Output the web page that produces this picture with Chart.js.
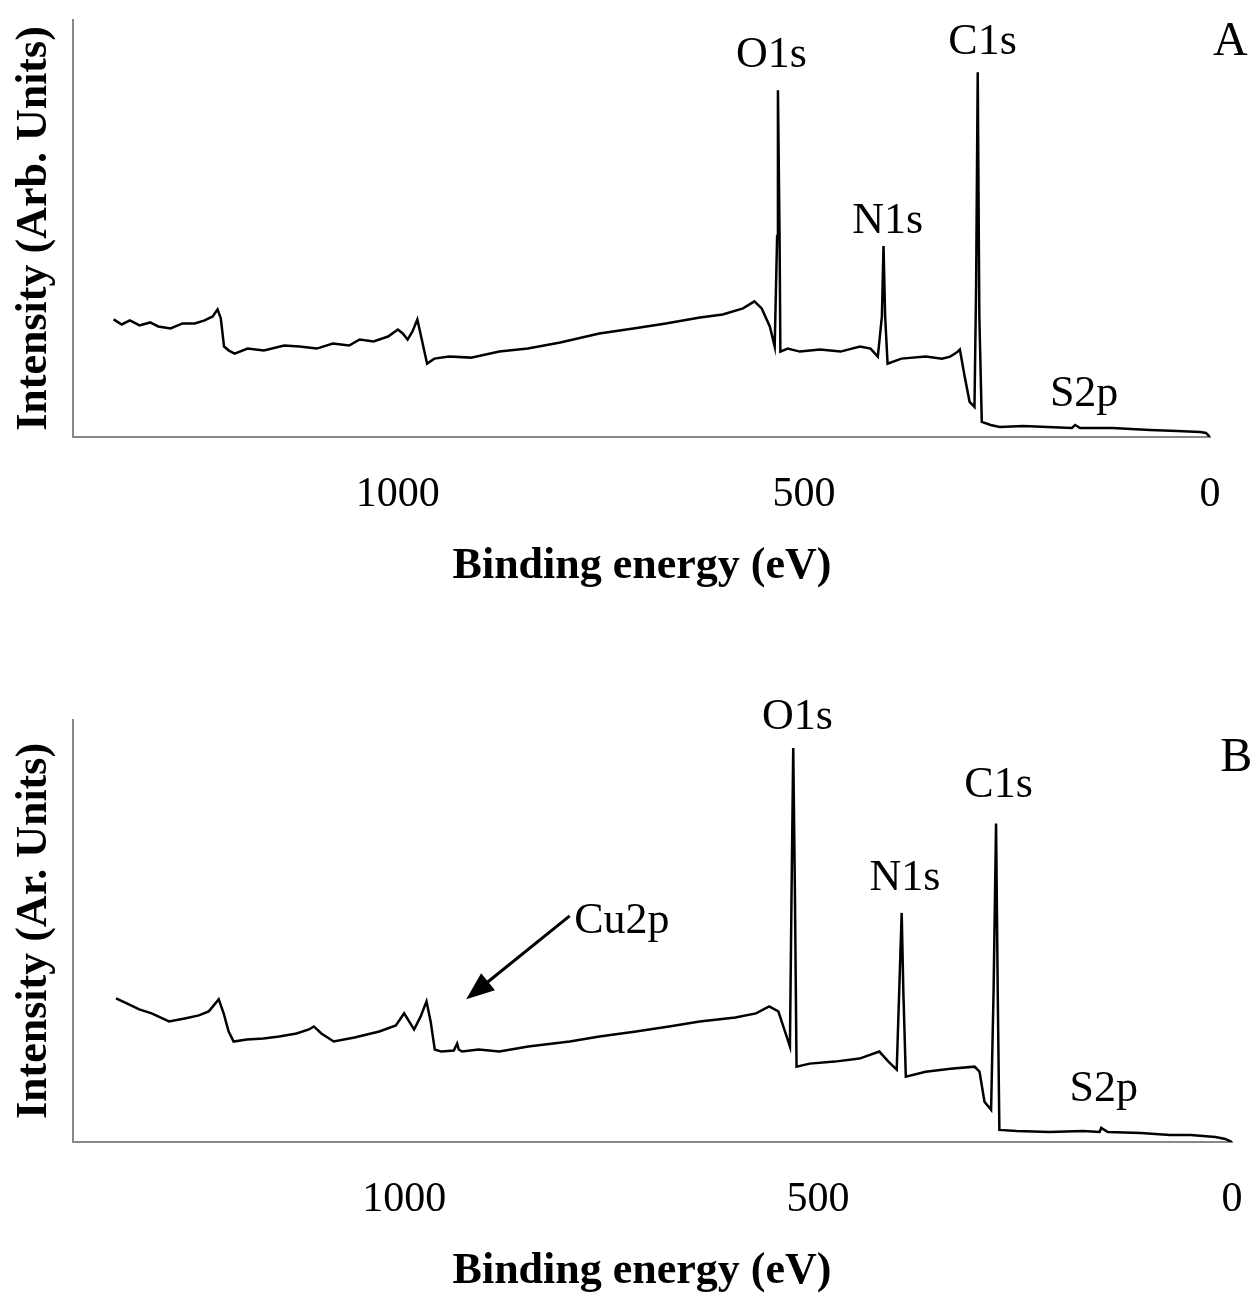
<!DOCTYPE html>
<html>
<head>
<meta charset="utf-8">
<script src="https://cdn.jsdelivr.net/npm/chart.js@4/dist/chart.umd.min.js"></script>
<style>
  body { margin: 0; background: #fff; }
  canvas { display: block; }
</style>
</head>
<body>
<div style="width:1257px;height:640px"><canvas id="chartA"></canvas></div>
<div style="width:1257px;height:660px"><canvas id="chartB"></canvas></div>
<script>
// Panel A spectrum (binding energy eV, intensity arb.)
const energyA = [1350, 1340, 1330, 1318, 1305, 1295, 1280, 1265, 1250, 1238, 1228, 1222, 1218, 1214, 1208, 1201, 1185, 1165, 1140, 1121, 1100, 1080, 1060, 1047, 1030, 1012, 1000, 994, 988, 982, 976, 970, 964, 955, 937, 910, 875, 840, 800, 752, 710, 670, 628, 600, 575, 561, 552, 542, 536, 533, 532, 530, 529, 520, 505, 480, 455, 431, 418, 409, 404, 402, 400, 397, 380, 350, 330, 320, 312, 308, 302, 296, 290, 288, 286, 284, 281, 270, 259, 230, 200, 170, 166, 160, 120, 74, 40, 12, 5, 0];
const intensityA = [117, 112, 116, 111, 114, 110, 108, 113, 113, 116, 120, 127, 118, 90, 86, 83, 88, 86, 91, 90, 88, 93, 91, 97, 95, 100, 107, 103, 97, 105, 117, 95, 73, 78, 80, 79, 85, 88, 94, 103, 108, 113, 119, 122, 128, 135, 128, 110, 90, 200, 345, 200, 85, 88, 85, 87, 85, 90, 88, 80, 120, 190, 120, 73, 78, 80, 78, 80, 84, 87, 60, 35, 30, 150, 363, 120, 15, 12, 10, 11, 10, 9, 12, 9, 9, 7, 6, 5, 4, 0];

// Panel B spectrum
const energyB = [1348, 1335, 1320, 1305, 1284, 1265, 1248, 1236, 1228, 1224, 1218, 1212, 1206, 1190, 1170, 1151, 1130, 1115, 1109, 1100, 1085, 1060, 1030, 1010, 1000, 994, 988, 980, 973, 968, 963, 955, 940, 936, 934, 930, 910, 885, 850, 800, 764, 720, 680, 643, 600, 575, 559, 548, 540, 534, 532, 530, 528, 526, 510, 480, 450, 426, 415, 405, 402, 399, 397, 394, 370, 340, 311, 305, 299, 291, 288, 285, 283, 281, 260, 220, 180, 160, 158, 150, 110, 75, 50, 20, 8, 0];
const intensityB = [143, 138, 132, 128, 120, 123, 126, 130, 138, 142, 128, 110, 100, 102, 103, 105, 108, 112, 115, 108, 100, 104, 110, 116, 128, 120, 112, 125, 140, 120, 92, 90, 91, 98, 92, 90, 92, 90, 95, 100, 105, 110, 115, 120, 124, 128, 135, 130, 110, 95, 250, 392, 250, 75, 78, 80, 83, 90, 80, 72, 150, 228, 150, 65, 70, 73, 75, 70, 40, 32, 150, 317, 150, 12, 11, 10, 11, 10, 14, 10, 9, 7, 7, 5, 3, 0];

const xTicks = [1000, 500, 0];

// annotation text with position in data units (energy, intensity)
const labelsA = [['O1s', 540, 380], ['N1s', 397, 215], ['C1s', 280, 393], ['S2p', 155, 42], ['A', -25, 393]];
const labelsB = [['O1s', 525, 423], ['N1s', 395, 262], ['C1s', 282, 355], ['S2p', 155, 52], ['B', -5, 382], ['Cu2p', 737, 220]];

function pts(xs, ys) {
    return xs.map((x, i) => ({ x: x, y: ys[i] }));
}

function makeChart(id, xs, ys, yMax, yTitle, labels, pad, arrow) {
    const overlay = {
        id: 'overlay',
        afterDraw(chart) {
            const c = chart.ctx;
            const sx = chart.scales.x, sy = chart.scales.y;
            const area = chart.chartArea;
            c.save();
            c.fillStyle = '#000';
            c.textAlign = 'center';
            c.textBaseline = 'middle';
            c.font = '42px "Liberation Serif"';
            xTicks.forEach(t => c.fillText(String(t), sx.getPixelForValue(t), area.bottom + 58));
            labels.forEach(l => {
                c.font = (l[0].length === 1 ? '48px' : '44px') + ' "Liberation Serif"';
                c.fillText(l[0], sx.getPixelForValue(l[1]), sy.getPixelForValue(l[2]));
            });
            c.font = 'bold 44px "Liberation Serif"';
            c.fillText('Binding energy (eV)', 642, area.bottom + 130);
            c.translate(35, (area.top + area.bottom) / 2);
            c.rotate(-Math.PI / 2);
            c.font = 'bold 44px "Liberation Serif"';
            c.fillText(yTitle, 0, 0);
            c.restore();
            if (arrow) {
                const x1 = sx.getPixelForValue(arrow[0]), y1 = sy.getPixelForValue(arrow[1]);
                const x2 = sx.getPixelForValue(arrow[2]), y2 = sy.getPixelForValue(arrow[3]);
                const a = Math.atan2(y2 - y1, x2 - x1);
                c.save();
                c.strokeStyle = '#000';
                c.lineWidth = 3;
                c.beginPath();
                c.moveTo(x1, y1);
                c.lineTo(x2 - 20 * Math.cos(a), y2 - 20 * Math.sin(a));
                c.stroke();
                c.beginPath();
                c.moveTo(x2, y2);
                c.lineTo(x2 - 28 * Math.cos(a) + 11 * Math.sin(a), y2 - 28 * Math.sin(a) - 11 * Math.cos(a));
                c.lineTo(x2 - 28 * Math.cos(a) - 11 * Math.sin(a), y2 - 28 * Math.sin(a) + 11 * Math.cos(a));
                c.closePath();
                c.fill();
                c.restore();
            }
        }
    };
    new Chart(document.getElementById(id), {
        type: 'line',
        data: {
            datasets: [{
                data: pts(xs, ys),
                borderColor: '#000',
                borderWidth: 2.5,
                pointRadius: 0,
                tension: 0
            }]
        },
        options: {
            responsive: true,
            maintainAspectRatio: false,
            animation: false,
            layout: { padding: pad },
            plugins: { legend: { display: false }, tooltip: { enabled: false } },
            scales: {
                x: {
                    type: 'linear', reverse: true, min: 0, max: 1400,
                    grid: { display: false, drawTicks: false },
                    border: { color: '#888', width: 2 },
                    ticks: { display: false }
                },
                y: {
                    min: 0, max: yMax,
                    grid: { display: false, drawTicks: false },
                    border: { color: '#888', width: 2 },
                    ticks: { display: false }
                }
            }
        },
        plugins: [overlay]
    });
}

makeChart('chartA', energyA, intensityA, 415, 'Intensity (Arb. Units)', labelsA,
    { left: 73, right: 47, top: 20, bottom: 203 }, null);
makeChart('chartB', energyB, intensityB, 420, 'Intensity (Ar. Units)', labelsB,
    { left: 73, right: 25, top: 80, bottom: 158 }, [800, 225, 925, 142]);
</script>
</body>
</html>
